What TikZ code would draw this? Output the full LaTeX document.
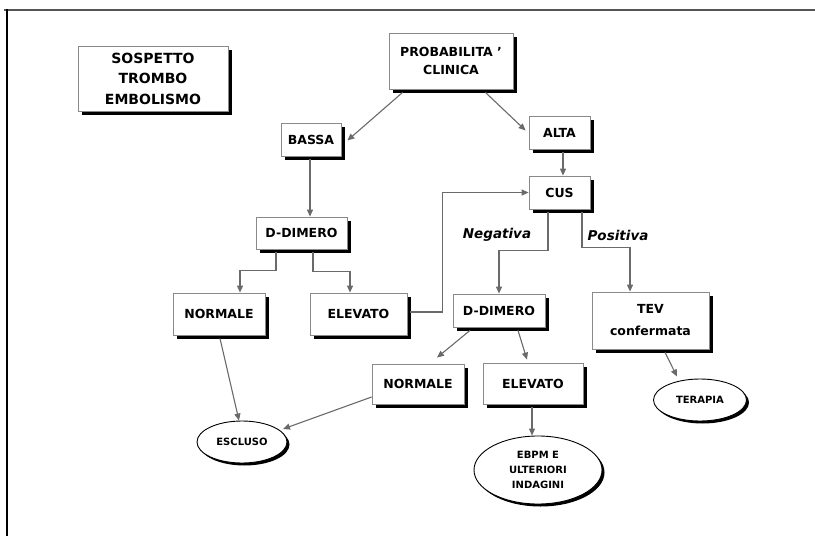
\documentclass[tikz,border=0pt]{standalone}
\usepackage{fontspec}
\setmainfont{DejaVu Sans}
\usetikzlibrary{arrows.meta,shapes.geometric,shadows,calc}
\definecolor{linegray}{HTML}{6A6A6A}
\definecolor{boxgray}{HTML}{8A8A8A}
\definecolor{framegray}{HTML}{555555}
\begin{document}
\begin{tikzpicture}[x=1pt,y=-1pt,
  box/.style={draw=boxgray, line width=0.8pt, fill=white, rectangle, align=center,
    font=\bfseries\fontsize{12.5}{18}\selectfont, inner sep=0pt,
    drop shadow={shadow xshift=3.5pt, shadow yshift=-3.5pt, fill=black, opacity=1}},
  oval/.style={ellipse, draw=black, line width=0.9pt, fill=white, inner sep=0pt, align=center,
    font=\bfseries\fontsize{10}{15}\selectfont,
    drop shadow={shadow xshift=2.5pt, shadow yshift=-2.5pt, fill=black, opacity=1}},
  conn/.style={draw=linegray, line width=1.1pt, -{Triangle[length=7pt,width=6pt]}},
  lab/.style={font=\bfseries\itshape\fontsize{13.5}{15}\selectfont}
]
\useasboundingbox (0,0) rectangle (815,536);
\fill[white] (0,0) rectangle (815,536);
% frame
\draw[framegray, line width=2pt] (4,9.5) -- (815,9.5);
\draw[black, line width=1.2pt] (7,9) -- (7,536);

% nodes
\node[box,minimum width=150pt,minimum height=65pt,font=\bfseries\fontsize{14}{20.5}\selectfont] (sosp) at (153,78.5) {SOSPETTO\\TROMBO\\EMBOLISMO};
\node[box,minimum width=124pt,minimum height=56pt] (prob) at (451,61) {PROBABILITA~\char39\\CLINICA};
\node[box,minimum width=60pt,minimum height=33pt] (bassa) at (311,139.5) {BASSA};
\node[box,minimum width=61pt,minimum height=33pt] (alta) at (559.5,132.5) {ALTA};
\node[box,minimum width=61pt,minimum height=33pt] (cus) at (559.5,192.5) {CUS};
\node[box,minimum width=91pt,minimum height=32pt] (dd1) at (301.5,233) {D-DIMERO};
\node[box,minimum width=92pt,minimum height=42pt] (norm1) at (219,314) {NORMALE};
\node[box,minimum width=97pt,minimum height=42pt] (elev1) at (358.5,314) {ELEVATO};
\node[box,minimum width=92pt,minimum height=33pt] (dd2) at (499,310.5) {D-DIMERO};
\node[box,minimum width=117pt,minimum height=57pt,font=\bfseries\fontsize{12.5}{22}\selectfont] (tev) at (650.5,320.5) {TEV\\confermata};
\node[box,minimum width=92pt,minimum height=40pt] (norm2) at (418,384) {NORMALE};
\node[box,minimum width=100pt,minimum height=41pt] (elev2) at (533,383.5) {ELEVATO};
\node[oval,minimum width=90pt,minimum height=42pt] (escl) at (242,442) {ESCLUSO};
\node[oval,minimum width=128pt,minimum height=68pt] (ebpm) at (538,470) {EBPM E\\ULTERIORI\\INDAGINI};
\node[oval,minimum width=93pt,minimum height=42pt] (ter) at (700,400) {TERAPIA};

% labels
\node[lab] (neg) at (497,235) {Negativa};
\node[lab] (pos) at (618,235) {Positiva};

% connectors
\draw[conn] ($(prob.south west)+(14,3)$) -- ($(bassa.east)+(6,1)$);
\draw[conn] ($(prob.south east)+(-28,3)$) -- ($(alta.west)+(-3,-2)$);
\draw[conn] ($(alta.south)+(3.5,3)$) -- ($(cus.north)+(3.5,0)$);
\draw[conn] ($(bassa.south)+(-1,3)$) -- ($(dd1.north)+(8.5,0)$);
\draw[conn] ($(dd1.south)+(-25.5,3)$) -- ++(0,18) -| ($(norm1.north)+(21,0)$);
\draw[conn] ($(dd1.south)+(11.5,3)$) -- ++(0,19) -| ($(elev1.north)+(-8.5,0)$);
\draw[conn] ($(elev1.east)+(3,-2)$) -- ++(32,0) |- (cus.west);
\draw[conn] ($(cus.south)+(-11.5,3)$) -- ++(0,38) -| (dd2.north);
\draw[conn] ($(cus.south)+(22.5,3)$) -- ++(0,35) -| ($(tev.north)+(-20.5,0)$);
\draw[conn] ($(dd2.south)+(-29,3)$) -- ($(norm2.north)+(19,-6)$);
\draw[conn] ($(dd2.south)+(19,3)$) -- ($(elev2.north)+(-6,-3)$);
\draw[conn] ($(norm1.south)+(1,3)$) -- ($(escl.north)+(-3,0)$);
\draw[conn] ($(norm2.west)+(0,13)$) -- ($(escl.center)+(41,-13)$);
\draw[conn] ($(elev2.south)+(-1,3)$) -- ($(ebpm.north)+(-6,0)$);
\draw[conn] ($(tev.south)+(14.5,3)$) -- ($(ter.north)+(-23,-2)$);
\end{tikzpicture}
\end{document}
